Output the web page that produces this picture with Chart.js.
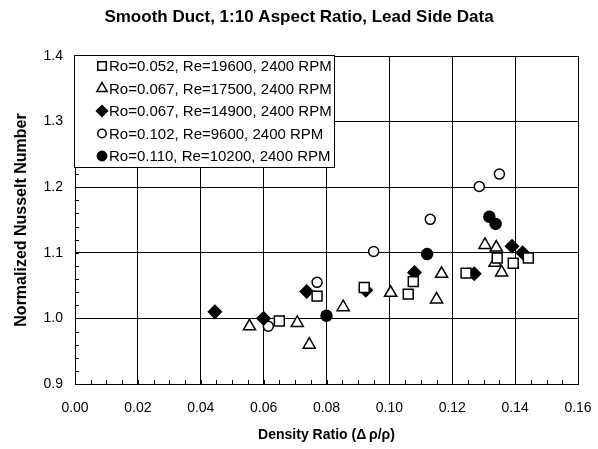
<!DOCTYPE html>
<html>
<head>
<meta charset="utf-8">
<script src="https://cdn.jsdelivr.net/npm/chart.js@4.4.0/dist/chart.umd.min.js"></script>
<style>
  html, body { margin: 0; padding: 0; background: #fff; }
</style>
</head>
<body>
<canvas id="chart" width="598" height="449"></canvas>
<script>
// series labels
const seriesNames = [
  'Ro=0.052, Re=19600, 2400 RPM',
  'Ro=0.067, Re=17500, 2400 RPM',
  'Ro=0.067, Re=14900, 2400 RPM',
  'Ro=0.102, Re=9600, 2400 RPM',
  'Ro=0.110, Re=10200, 2400 RPM'
];

// values
const sqX  = [0.065, 0.077, 0.092, 0.106, 0.1076, 0.1244, 0.1343, 0.1394, 0.1442];
const sqY  = [0.996, 1.034, 1.047, 1.037, 1.056, 1.069, 1.092, 1.084, 1.092];
const triX = [0.0555, 0.0707, 0.0745, 0.0853, 0.1004, 0.115, 0.1166, 0.1304, 0.1336, 0.134, 0.1357];
const triY = [0.988, 0.993, 0.960, 1.017, 1.039, 1.029, 1.068, 1.112, 1.085, 1.108, 1.070];
const diaX = [0.0445, 0.060, 0.0737, 0.0925, 0.108, 0.127, 0.139, 0.1424];
const diaY = [1.010, 1.000, 1.041, 1.043, 1.070, 1.068, 1.110, 1.100];
const ocX  = [0.0615, 0.077, 0.095, 0.113, 0.1286, 0.135];
const ocY  = [0.988, 1.055, 1.102, 1.151, 1.201, 1.220];
const fcX  = [0.080, 0.112, 0.1318, 0.1338];
const fcY  = [1.004, 1.098, 1.155, 1.144];

const FONT = '"Liberation Sans", Arial, Helvetica, sans-serif';
const pts = (xs, ys) => xs.map((x, i) => ({ x, y: ys[i] }));

const styles = [
  { pointStyle: 'rect',     radius: 7,   fill: '#fff' },
  { pointStyle: 'triangle', radius: 7,   fill: '#fff' },
  { pointStyle: 'rectRot',  radius: 6.5, fill: '#000' },
  { pointStyle: 'circle',   radius: 5,   fill: '#fff' },
  { pointStyle: 'circle',   radius: 5.5, fill: '#000' }
];
const allData = [pts(sqX, sqY), pts(triX, triY), pts(diaX, diaY), pts(ocX, ocY), pts(fcX, fcY)];

// little inward ticks along the bottom and left axes
const minorTicks = {
  id: 'minorTicks',
  beforeDatasetsDraw(chart) {
    const { ctx, scales: { x, y } } = chart;
    ctx.save();
    ctx.strokeStyle = '#000';
    ctx.lineWidth = 1;
    ctx.beginPath();
    for (let i = 0; i <= 32; i++) {
      const px = Math.round(x.getPixelForValue(i * 0.005)) + 0.5;
      ctx.moveTo(px, y.bottom);
      ctx.lineTo(px, y.bottom - 4);
    }
    for (let i = 0; i <= 25; i++) {
      const py = Math.round(y.getPixelForValue(0.9 + i * 0.02)) + 0.5;
      ctx.moveTo(x.left, py);
      ctx.lineTo(x.left + 4, py);
    }
    ctx.stroke();
    ctx.restore();
  }
};

// boxed legend in the upper left corner of the plot
const boxLegend = {
  id: 'boxLegend',
  afterDatasetsDraw(chart) {
    const { ctx, chartArea } = chart;
    const left = chartArea.left - 1, top = chartArea.top - 1;
    const w = 260, h = 112;
    ctx.save();
    ctx.fillStyle = '#fff';
    ctx.fillRect(left, top, w, h);
    ctx.strokeStyle = '#000';
    ctx.lineWidth = 1;
    ctx.strokeRect(left + 0.5, top + 0.5, w, h);
    ctx.font = '15px ' + FONT;
    ctx.textBaseline = 'middle';
    chart.data.datasets.forEach((ds, i) => {
      const cy = top + 11 + i * 22.5;
      ctx.fillStyle = ds.backgroundColor;
      ctx.strokeStyle = '#000';
      ctx.lineWidth = 1.5;
      Chart.helpers.drawPoint(ctx, {
        pointStyle: ds.pointStyle, radius: ds.pointRadius * 0.85, rotation: 0, borderWidth: 1.5
      }, left + 28, cy);
      ctx.fillStyle = '#000';
      ctx.fillText(ds.label, left + 35, cy + 1);
    });
    ctx.restore();
  }
};

new Chart(document.getElementById('chart'), {
  type: 'scatter',
  data: {
    datasets: allData.map((d, i) => ({
      label: seriesNames[i],
      data: d,
      pointStyle: styles[i].pointStyle,
      pointRadius: styles[i].radius,
      pointHoverRadius: styles[i].radius,
      backgroundColor: styles[i].fill,
      borderColor: '#000',
      borderWidth: 1.5
    }))
  },
  options: {
    responsive: false,
    animation: false,
    layout: { padding: 0 },
    plugins: {
      legend: { display: false },
      tooltip: { enabled: false },
      title: {
        display: true,
        text: 'Smooth Duct, 1:10 Aspect Ratio, Lead Side Data',
        color: '#000',
        font: { family: FONT, size: 17, weight: 'bold' },
        padding: { top: 7, bottom: 28.6 }
      }
    },
    scales: {
      x: {
        type: 'linear',
        min: 0, max: 0.16,
        afterFit: s => { s.height = 65; s.paddingLeft = 0; s.paddingRight = 20; },
        grid: { color: '#000', lineWidth: 1, drawTicks: false },
        border: { color: '#000', width: 1 },
        ticks: {
          stepSize: 0.02, padding: 16, color: '#000',
          font: { family: FONT, size: 14 },
          callback: v => v.toFixed(2)
        },
        title: {
          display: true, text: 'Density Ratio (Δ\u2009ρ/ρ)', color: '#000',
          font: { family: FONT, size: 14, weight: 'bold' },
          padding: { top: 0, bottom: 5 }
        }
      },
      y: {
        type: 'linear',
        min: 0.9, max: 1.4,
        afterFit: s => { s.width = 75; },
        grid: { color: '#000', lineWidth: 1, drawTicks: false },
        border: { color: '#000', width: 1 },
        ticks: {
          stepSize: 0.1, padding: 12, color: '#000',
          font: { family: FONT, size: 14 },
          callback: v => v.toFixed(1)
        },
        title: {
          display: true, text: 'Normalized Nusselt Number', color: '#000',
          font: { family: FONT, size: 16, weight: 'bold' },
          padding: { top: 12, bottom: 0 }
        }
      }
    }
  },
  plugins: [minorTicks, boxLegend]
});
</script>
</body>
</html>
